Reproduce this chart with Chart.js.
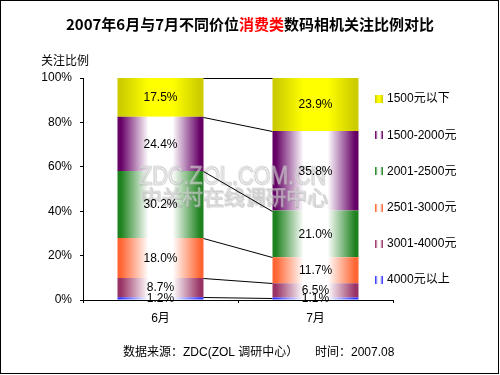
<!DOCTYPE html>
<html><head><meta charset="utf-8">
<script src="https://cdn.jsdelivr.net/npm/chart.js@4/dist/chart.umd.min.js"></script>
<style>html,body{margin:0;padding:0;background:#fff}#wrap{position:relative;width:500px;height:375px}</style>
</head><body><div id="wrap"><canvas id="c" width="500" height="375"></canvas></div>
<script>
// ---- data ----
const categories = ['6月', '7月'];
const seriesNames = ['4000元以上', '3001-4000元', '2501-3000元', '2001-2500元', '1500-2000元', '1500元以下'];
const s4000Plus   = [1.2, 1.1];
const s3001to4000 = [8.7, 6.5];
const s2501to3000 = [18.0, 11.7];
const s2001to2500 = [30.2, 21.0];
const s1500to2000 = [24.4, 35.8];
const s1500Below  = [17.5, 23.9];
const yTickValues = [0, 20, 40, 60, 80, 100];
const titlePlain1 = '2007年6月与7月不同价位';
const titleRed = '消费类';
const titlePlain2 = '数码相机关注比例对比';
const yAxisTitle = '关注比例';
const footerSource = '数据来源：ZDC(ZOL 调研中心）';
const footerTime = '时间：2007.08';
const watermark1 = 'ZDC.ZOL.COM.CN';
const watermark2 = '中关村在线调研中心';

// ---- styles ----
const edgeColors   = ['#3333FF', '#993366', '#FF6633', '#1E821E', '#660066', '#CCCC00'];
const centerColors = ['#FFFFFF', '#FFFFFF', '#FFFFFF', '#FFFFFF', '#FFFFFF', '#FFFF00'];
const BAR_FRACTION = 0.555;
const FONT = '"Liberation Sans", "Noto Sans CJK SC", Arial, sans-serif';

function makeGrad(c2d, x0, x1, i) {
  const g = c2d.createLinearGradient(x0, 0, x1, 0);
  const e = edgeColors[i], c = centerColors[i];
  g.addColorStop(0, e); g.addColorStop(0.04, e);
  g.addColorStop(0.36, c); g.addColorStop(0.64, c);
  g.addColorStop(0.96, e); g.addColorStop(1, e);
  return g;
}
function barFill(i) {
  return (ctx) => {
    const chart = ctx.chart, xs = chart.scales && chart.scales.x;
    if (!xs || ctx.dataIndex === undefined || !xs.width) return edgeColors[i];
    const cx = xs.getPixelForValue(ctx.dataIndex);
    const w = (xs.width / categories.length) * BAR_FRACTION;
    return makeGrad(chart.ctx, cx - w / 2, cx + w / 2, i);
  };
}

const seriesValues = [s4000Plus, s3001to4000, s2501to3000, s2001to2500, s1500to2000, s1500Below];
const datasets = seriesValues.map((vals, i) => ({
  label: seriesNames[i],
  data: vals,
  backgroundColor: barFill(i),
  borderWidth: 0,
  barPercentage: BAR_FRACTION,
  categoryPercentage: 1.0
}));

const deco = {
  id: 'deco',
  beforeDraw(chart) {
    const c = chart.ctx;
    c.save(); c.fillStyle = '#fff'; c.fillRect(0, 0, chart.width, chart.height); c.restore();
  },
  afterDatasetsDraw(chart) {
    const c = chart.ctx;
    c.save();
    // watermark
    const drawWM = (txt, font, cx, cy, targetW) => {
      c.font = font;
      const m = c.measureText(txt).width;
      const sx = targetW / m;
      c.save();
      c.translate(cx, cy); c.scale(sx, 1);
      c.textAlign = 'center'; c.textBaseline = 'middle';
      c.lineWidth = 1;
      c.fillStyle = 'rgba(255,255,255,0.5)';
      c.fillText(txt, 0, 0);
      c.strokeStyle = 'rgba(140,140,140,0.35)';
      c.strokeText(txt, 1 / sx, 1);
      c.strokeStyle = 'rgba(190,190,190,0.45)';
      c.strokeText(txt, 0, 0);
      c.restore();
    };
    drawWM(watermark1, '25px ' + FONT, 232, 177, 187);
    drawWM(watermark2, '20px "Noto Sans CJK SC", sans-serif', 234, 197, 187);

    // series lines
    c.strokeStyle = '#000'; c.lineWidth = 1;
    chart.data.datasets.forEach((ds, di) => {
      const meta = chart.getDatasetMeta(di);
      for (let k = 0; k < meta.data.length - 1; k++) {
        const a = meta.data[k], b = meta.data[k + 1];
        c.beginPath();
        c.moveTo(a.x + a.width / 2, Math.round(a.y) + 0.5);
        c.lineTo(b.x - b.width / 2, Math.round(b.y) + 0.5);
        c.stroke();
      }
    });
    // value labels
    c.font = '12px ' + FONT; c.fillStyle = '#000';
    c.textAlign = 'center'; c.textBaseline = 'middle';
    chart.data.datasets.forEach((ds, di) => {
      const meta = chart.getDatasetMeta(di);
      meta.data.forEach((el, k) => {
        c.fillText(Number(ds.data[k]).toFixed(1) + '%', el.x, (el.y + el.base) / 2 + 0.5);
      });
    });
    c.restore();
  },
  afterDraw(chart) {
    const c = chart.ctx;
    c.save();
    // title
    c.font = 'bold 15px "Noto Sans CJK SC", ' + FONT;
    c.textBaseline = 'middle'; c.textAlign = 'left';
    const parts = [[titlePlain1, '#000'], [titleRed, '#FF0000'], [titlePlain2, '#000']];
    const total = parts.reduce((s, p) => s + c.measureText(p[0]).width, 0);
    let x = 250 - total / 2;
    parts.forEach(p => { c.fillStyle = p[1]; c.fillText(p[0], x, 24); x += c.measureText(p[0]).width; });
    // y axis title
    c.font = '12px ' + FONT; c.fillStyle = '#000';
    c.fillText(yAxisTitle, 41, 62);
    // legend
    for (let i = seriesNames.length - 1, row = 0; i >= 0; i--, row++) {
      const cy = 99 + row * 36.2;
      c.fillStyle = makeGrad(c, 375, 383, i);
      c.fillRect(375, Math.round(cy) - 4, 8, 8);
      c.fillStyle = '#000';
      c.fillText(seriesNames[i], 387, cy);
    }
    // footer
    c.fillText(footerSource, 123, 353);
    c.fillText(footerTime, 315, 353);
    // border
    c.strokeStyle = '#000'; c.lineWidth = 1;
    c.strokeRect(0.5, 0.5, 498, 373);
    c.restore();
  }
};

new Chart(document.getElementById('c'), {
  type: 'bar',
  data: { labels: categories, datasets },
  options: {
    responsive: false,
    animation: false,
    events: [],
    layout: { padding: { left: 0, right: 107, top: 78, bottom: 0 } },
    plugins: { legend: { display: false }, title: { display: false }, tooltip: { enabled: false } },
    scales: {
      x: {
        stacked: true,
        afterFit: (s) => { s.height = 75; },
        grid: { drawOnChartArea: false, drawTicks: true, tickLength: 3, color: '#000', offset: true },
        border: { color: '#000', width: 1 },
        ticks: { color: '#000', font: { size: 12, family: FONT }, padding: 8 }
      },
      y: {
        stacked: true,
        min: 0, max: 100,
        afterFit: (s) => { s.width = 83; },
        afterBuildTicks: (s) => { s.ticks = yTickValues.map(v => ({ value: v })); },
        grid: { drawOnChartArea: false, drawTicks: true, tickLength: 3, color: '#000' },
        border: { color: '#000', width: 1 },
        ticks: { color: '#000', font: { size: 12, family: FONT }, padding: 8, callback: (v) => v + '%' }
      }
    }
  },
  plugins: [deco]
});
</script>
</body></html>
